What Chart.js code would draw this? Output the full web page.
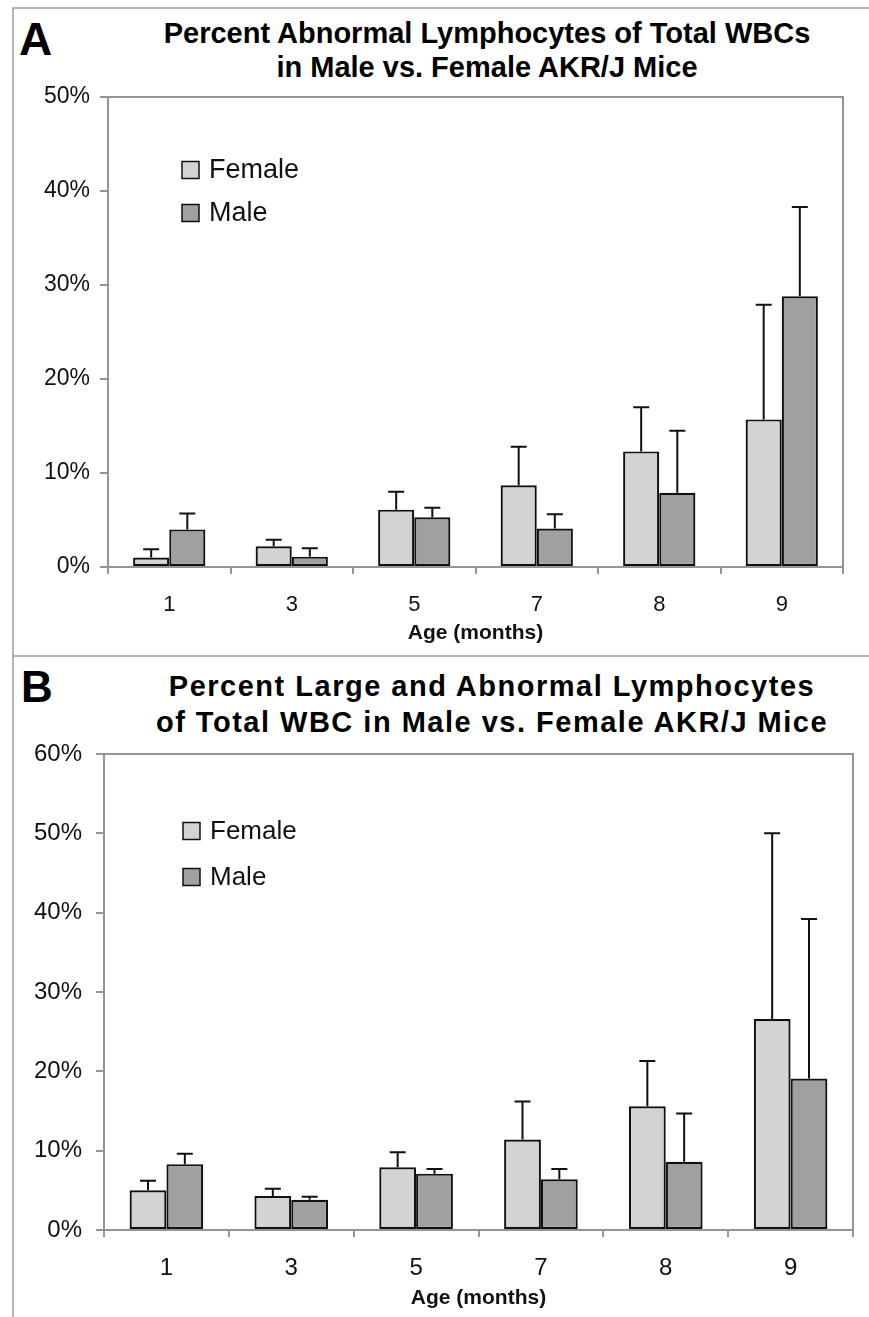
<!DOCTYPE html>
<html>
<head>
<meta charset="utf-8">
<script src="https://cdn.jsdelivr.net/npm/chart.js@4.4.0/dist/chart.umd.min.js"></script>
<style>
  html, body { margin: 0; padding: 0; background: #fff; overflow: hidden; }
  body { width: 869px; height: 1317px; position: relative; font-family: "Liberation Sans", Arial, sans-serif; }
  canvas { position: absolute; left: 0; }
  .frame { position: absolute; background: #b4b4b4; }
  .letter { position: absolute; font-weight: bold; line-height: 1; color: #000; }
  .title { position: absolute; text-align: center; font-weight: bold; color: #000; white-space: nowrap; }
</style>
</head>
<body>
<div class="frame" style="left:12px; top:7px; width:857px; height:2px;"></div>
<div class="frame" style="left:12px; top:7px; width:2px; height:1310px;"></div>
<div class="frame" style="left:12px; top:655px; width:857px; height:2px;"></div>

<div class="letter" style="left:19px; top:16px; font-size:46px;">A</div>
<div class="title" style="left:87px; width:800px; top:16px; font-size:29px; line-height:34px;">Percent Abnormal Lymphocytes of Total WBCs<br>in Male vs. Female AKR/J Mice</div>

<div class="letter" style="left:21px; top:665px; font-size:44px;">B</div>
<div class="title" style="left:92px; width:800px; top:668px; font-size:29px; line-height:36px; letter-spacing:1.5px;">Percent Large and Abnormal Lymphocytes<br>of Total WBC in Male vs. Female AKR/J Mice</div>

<canvas id="chartA" width="869" height="656" style="top:0px;"></canvas>
<canvas id="chartB" width="869" height="661" style="top:656px;"></canvas>

<script>
// ---------- DATA ----------
const ageCategories = ["1", "3", "5", "7", "8", "9"];
const seriesNames = ["Female", "Male"];

// Panel A: Percent abnormal lymphocytes of total WBCs (%)
const femaleA = [1.0, 2.2, 6.1, 8.7, 12.3, 15.7];
const maleA   = [4.0, 1.1, 5.3, 4.1, 7.9, 28.8];
const femaleErrA = [0.9, 0.7, 1.9, 4.1, 4.7, 12.2];
const maleErrA   = [1.7, 0.9, 1.0, 1.5, 6.6, 9.5];
const yTicksA = [0, 10, 20, 30, 40, 50];

// Panel B: Percent large and abnormal lymphocytes of total WBC (%)
const femaleB = [5.0, 4.3, 7.9, 11.4, 15.6, 26.6];
const maleB   = [8.3, 3.8, 7.1, 6.4, 8.6, 19.1];
const femaleErrB = [1.2, 0.9, 1.9, 4.8, 5.7, 23.4];
const maleErrB   = [1.3, 0.4, 0.6, 1.3, 6.1, 20.1];
const yTicksB = [0, 10, 20, 30, 40, 50, 60];

const xAxisTitle = "Age (months)";

// ---------- STYLE ----------
const FEMALE_COLOR = "#d3d3d3";
const MALE_COLOR = "#a0a0a0";
const EDGE = "#111111";
const AXIS_GRAY = "#959595";
const FONT = "'Liberation Sans', Arial, sans-serif";

const plotBorder = {
  id: 'plotBorder',
  beforeDatasetsDraw(chart) {
    const a = chart.chartArea, ctx = chart.ctx;
    ctx.save();
    ctx.strokeStyle = AXIS_GRAY;
    ctx.lineWidth = 2;
    ctx.strokeRect(a.left, a.top, a.right - a.left, a.bottom - a.top);
    ctx.restore();
  }
};

const errorBars = {
  id: 'errorBars',
  afterDatasetsDraw(chart) {
    const ctx = chart.ctx, y = chart.scales.y;
    ctx.save();
    ctx.strokeStyle = EDGE;
    ctx.lineWidth = 2;
    chart.data.datasets.forEach((ds, i) => {
      const meta = chart.getDatasetMeta(i);
      meta.data.forEach((bar, j) => {
        const top = y.getPixelForValue(ds.data[j] + ds.errors[j]);
        ctx.beginPath();
        ctx.moveTo(bar.x, bar.y);
        ctx.lineTo(bar.x, top);
        ctx.moveTo(bar.x - 8, top);
        ctx.lineTo(bar.x + 8, top);
        ctx.stroke();
      });
    });
    ctx.restore();
  }
};

const insideLegend = {
  id: 'insideLegend',
  afterDraw(chart, args, opts) {
    const ctx = chart.ctx;
    ctx.save();
    chart.data.datasets.forEach((ds, i) => {
      const cy = opts.y0 + i * opts.dy;
      ctx.fillStyle = ds.backgroundColor;
      ctx.fillRect(opts.x, cy - 8.5, 17, 17);
      ctx.strokeStyle = EDGE;
      ctx.lineWidth = 1.5;
      ctx.strokeRect(opts.x, cy - 8.5, 17, 17);
      ctx.fillStyle = "#111";
      ctx.font = opts.fontSize + "px " + FONT;
      ctx.textBaseline = "middle";
      ctx.textAlign = "left";
      ctx.fillText(ds.label, opts.x + 27, cy + 1);
    });
    ctx.restore();
  }
};

function makeChart(id, female, male, fErr, mErr, yTicks, geo) {
  const yMax = yTicks[yTicks.length - 1];
  return new Chart(document.getElementById(id), {
    type: 'bar',
    data: {
      labels: ageCategories,
      datasets: [
        { label: seriesNames[0], data: female, errors: fErr, backgroundColor: FEMALE_COLOR,
          borderColor: EDGE, borderWidth: 2.2, borderSkipped: false,
          categoryPercentage: 0.59, barPercentage: 1.0 },
        { label: seriesNames[1], data: male, errors: mErr, backgroundColor: MALE_COLOR,
          borderColor: EDGE, borderWidth: 2.2, borderSkipped: false,
          categoryPercentage: 0.59, barPercentage: 1.0 }
      ]
    },
    options: {
      responsive: false,
      animation: false,
      devicePixelRatio: 1,
      layout: { padding: geo.padding },
      plugins: {
        legend: { display: false },
        title: { display: false },
        tooltip: { enabled: false },
        insideLegend: geo.legend
      },
      scales: {
        x: {
          grid: { display: true, drawOnChartArea: false, offset: true, tickLength: 7, color: AXIS_GRAY, lineWidth: 2 },
          border: { display: true, color: AXIS_GRAY, width: 2 },
          ticks: { color: "#111", font: { family: FONT, size: geo.xTickSize }, padding: geo.xTickPad, maxRotation: 0 },
          title: { display: true, text: xAxisTitle, color: "#111",
                   font: { family: FONT, size: 21, weight: 'bold' }, padding: { top: 0, bottom: geo.titlePad } },
          afterFit(s) { s.height = geo.xHeight; }
        },
        y: {
          min: 0, max: yMax,
          afterBuildTicks(s) { s.ticks = yTicks.map(v => ({ value: v })); },
          grid: { display: true, drawOnChartArea: false, tickLength: 8, color: AXIS_GRAY, lineWidth: 2 },
          border: { display: true, color: AXIS_GRAY, width: 2 },
          ticks: { color: "#111", font: { family: FONT, size: geo.yTickSize }, padding: geo.yTickPad,
                   callback: v => v + "%" },
          afterFit(s) { s.width = geo.yWidth; }
        }
      }
    },
    plugins: [plotBorder, errorBars, insideLegend]
  });
}

makeChart('chartA', femaleA, maleA, femaleErrA, maleErrA, yTicksA, {
  padding: { left: 0, right: 26, top: 97, bottom: 0 },
  yWidth: 108, xHeight: 89, xTickPad: 18, titlePad: 10, xTickSize: 22, yTickSize: 23, yTickPad: 10,
  legend: { x: 182, y0: 170, dy: 43, fontSize: 27 }
});

makeChart('chartB', femaleB, maleB, femaleErrB, maleErrB, yTicksB, {
  padding: { left: 0, right: 16, top: 98, bottom: 0 },
  yWidth: 104, xHeight: 87, xTickPad: 17, titlePad: 6, xTickSize: 24, yTickSize: 24, yTickPad: 14,
  legend: { x: 183, y0: 175, dy: 46, fontSize: 26 }
});
</script>
</body>
</html>
